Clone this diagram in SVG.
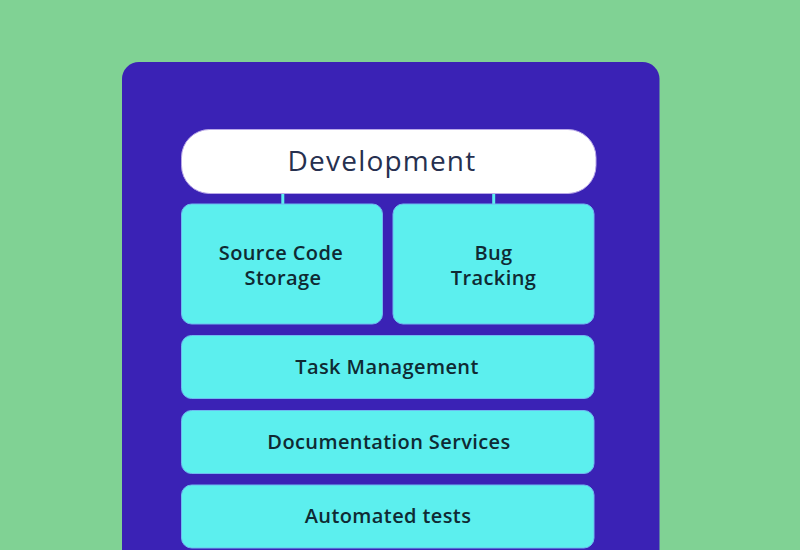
<svg xmlns="http://www.w3.org/2000/svg" width="800" height="550" viewBox="0 0 800 550">
<style>
.box{fill:#5CEFEE;stroke:#6FB8F0;stroke-width:1}
.lbl{font-family:"Open Sans","Liberation Sans",sans-serif;font-size:20px;fill:#0F2A33;text-anchor:middle;dominant-baseline:central;font-weight:600;letter-spacing:0.4px}
.title{font-family:"Open Sans","Liberation Sans",sans-serif;font-size:28px;fill:#26304F;text-anchor:middle;dominant-baseline:central;font-weight:500;letter-spacing:1.2px}
.conn{stroke:#5CEFEE;stroke-width:3}
</style>
<rect width="800" height="550" fill="#80D294"/>
<rect x="122" y="62" width="537.5" height="520" rx="17" fill="#3A22B5"/>
<g id="connectors">
<line class="conn" x1="282.8" y1="192" x2="282.8" y2="205"/>
<line class="conn" x1="493.7" y1="192" x2="493.7" y2="205"/>
</g>
<g id="development">
<rect x="181.5" y="129.5" width="414.5" height="64" rx="28" fill="#FFFFFF" stroke="#B9A8E8" stroke-width="1"/>
<text class="title" x="382" y="160">Development</text>
</g>
<g id="source-code-storage">
<rect class="box" x="181.5" y="204" width="201" height="120" rx="10"/>
<text class="lbl" x="281" y="252">Source Code</text>
<text class="lbl" x="283" y="277">Storage</text>
</g>
<g id="bug-tracking">
<rect class="box" x="393" y="204" width="201" height="120" rx="10"/>
<text class="lbl" x="493.5" y="252">Bug</text>
<text class="lbl" x="493.5" y="277">Tracking</text>
</g>
<g id="task-management">
<rect class="box" x="181.5" y="335.5" width="412.5" height="63" rx="10"/>
<text class="lbl" x="387" y="366">Task Management</text>
</g>
<g id="documentation-services">
<rect class="box" x="181.5" y="410.5" width="412.5" height="63" rx="10"/>
<text class="lbl" x="389" y="441">Documentation Services</text>
</g>
<g id="automated-tests">
<rect class="box" x="181.5" y="485" width="412.5" height="63" rx="10"/>
<text class="lbl" x="388" y="515">Automated tests</text>
</g>
</svg>
